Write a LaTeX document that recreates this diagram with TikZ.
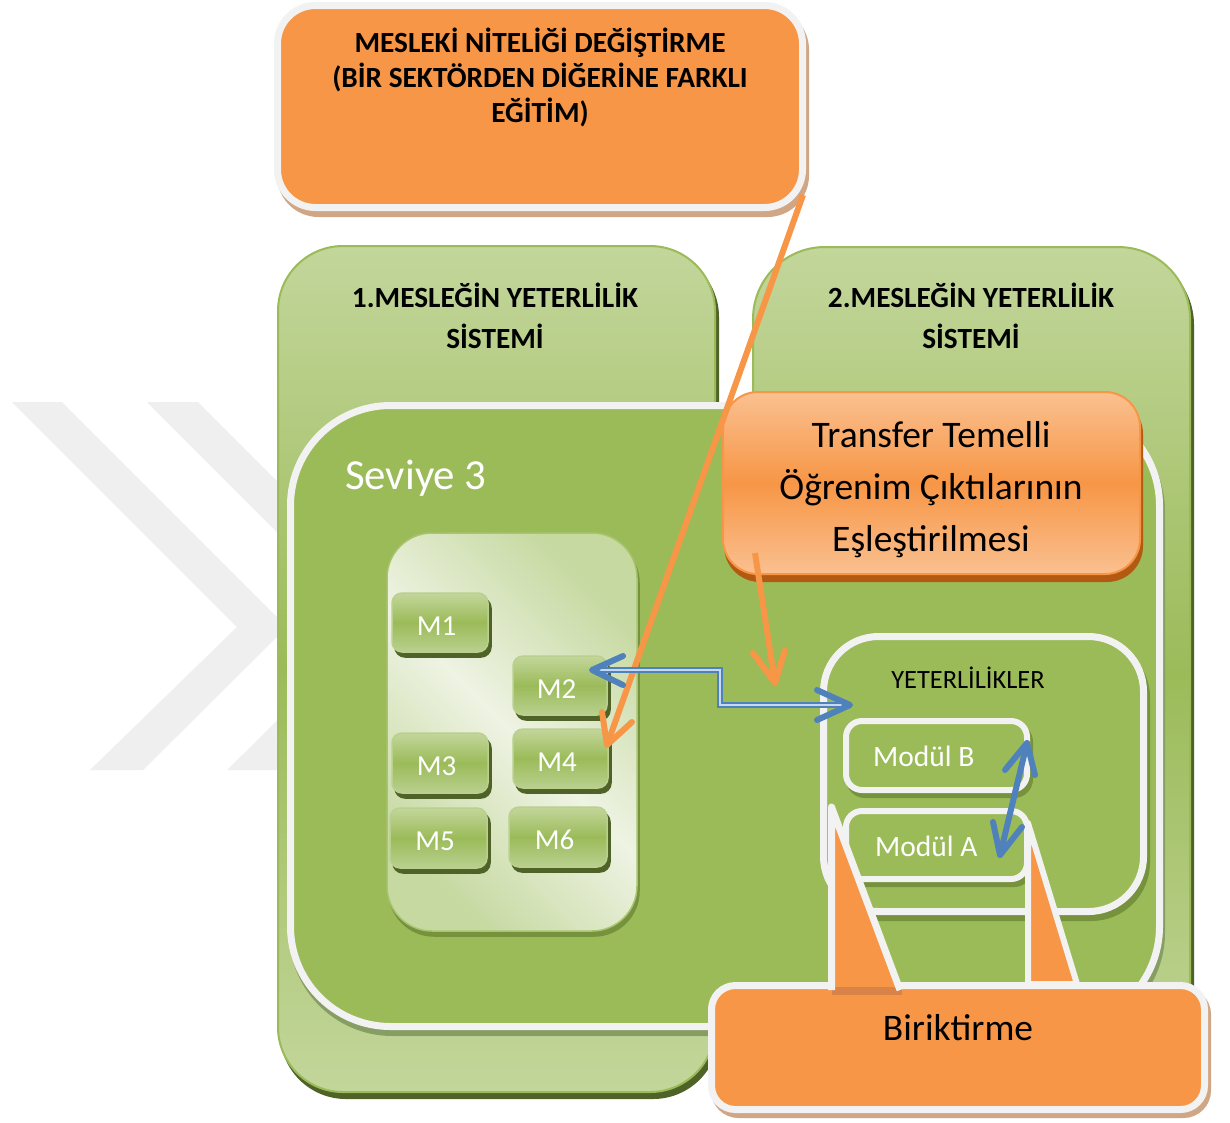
\documentclass[tikz,border=0pt]{standalone}
\usepackage{fontspec}
\setmainfont{Carlito}
\usetikzlibrary{calc,shadows}

\definecolor{orng}{HTML}{F79646}
\definecolor{orngpale}{HTML}{FAC090}
\definecolor{orngdeep}{HTML}{B35A12}
\definecolor{orngstrip}{HTML}{D98348}
\definecolor{tanshade}{HTML}{D0A684}
\definecolor{grn}{HTML}{9BBB59}
\definecolor{grnlight}{HTML}{C3D69B}
\definecolor{grnsoft}{HTML}{C6D9A0}
\definecolor{grnpale}{HTML}{EEF3E3}
\definecolor{grnedge}{HTML}{A9C46F}
\definecolor{grnbtn}{HTML}{B9D08F}
\definecolor{grndark}{HTML}{4F6228}
\definecolor{grnshade}{HTML}{76923C}
\definecolor{lvlshade}{HTML}{869E63}
\definecolor{rim}{HTML}{F2F2F2}
\definecolor{blu}{HTML}{4F81BD}
\definecolor{blupale}{HTML}{C6D9F1}
\definecolor{wmark}{HTML}{EFEFEF}

% rounded panel given by its corners: [style]{name}{x1}{y1}{x2}{y2}{text}
\newcommand\panel[7][]{%
  \node[#1, minimum width={(#5)-(#3)}, minimum height={(#6)-(#4)}]
    (#2) at ({((#3)+(#5))/2},{((#4)+(#6))/2}) {#7};}

\newcommand\headfont{\bfseries\fontsize{29.3}{35}\selectfont}
\newcommand\bigfont{\fontsize{37.5}{45}\selectfont}

\tikzset{
  titlebox/.style={fill=orng, draw=rim, line width=7pt, rounded corners=38pt,
    general shadow={fill=tanshade, draw=tanshade, shadow xshift=3pt, shadow yshift=-6pt}},
  sysbox/.style={draw=grn, line width=2pt,
    top color=grnlight, bottom color=grnlight, middle color=grn,
    general shadow={fill=grndark, draw=grndark, shadow xshift=3pt, shadow yshift=-6pt}},
  lvlbox/.style={fill=grn, draw=rim, line width=7pt, rounded corners=100pt,
    general shadow={fill=lvlshade, draw=lvlshade, shadow xshift=2pt, shadow yshift=-6pt}},
  grpbox/.style={draw=grnedge, line width=1.5pt, rounded corners=45pt,
    top color=grnsoft, bottom color=grnsoft, middle color=grnpale, shading angle=-45,
    general shadow={fill=grnshade, draw=grnshade, shadow xshift=2pt, shadow yshift=-5pt}},
  mbox/.style={draw=grnbtn, line width=1.5pt, rounded corners=10pt,
    top color=grnlight, bottom color=grnbtn, middle color=grn,
    general shadow={fill=grndark, draw=grndark, shadow xshift=3pt, shadow yshift=-5pt},
    text=white, font=\fontsize{29}{35}\selectfont, text height=25.5pt, text depth=0pt,
    execute at end node={\hspace*{7pt}}},
  xferbox/.style={draw=orng, line width=2pt, rounded corners=35pt,
    top color=orngpale, bottom color=orngpale, middle color=orng,
    general shadow={fill=orngdeep, draw=orngdeep, shadow xshift=2pt, shadow yshift=-7pt}},
  qualbox/.style={fill=grn, draw=rim, line width=7pt, rounded corners=55pt,
    general shadow={fill=grnshade, draw=grnshade, shadow xshift=3pt, shadow yshift=-6pt}},
  modbox/.style={fill=grn, draw=rim, line width=6pt, rounded corners=16pt,
    general shadow={fill=grnshade, draw=grnshade, shadow xshift=3pt, shadow yshift=-5pt}},
  accbox/.style={fill=orng, draw=rim, line width=7pt, rounded corners=24pt,
    general shadow={fill=tanshade, draw=tanshade, shadow xshift=3pt, shadow yshift=-5pt}},
  caption/.style={anchor=base, inner sep=0pt},
  modlabel/.style={anchor=base west, inner sep=0pt, text=white, font=\fontsize{29.5}{35}\selectfont},
  orngline/.style={draw=orng, line width=6pt},
  orngtip/.style={draw=orng, line width=6pt, line cap=round, line join=round},
  bluline/.style={draw=blu, line width=2pt, double=blupale, double distance=2.5pt},
  blutip/.style={draw=blu, line width=6pt, line cap=round, line join=round},
}

\begin{document}
\begin{tikzpicture}[x=1pt,y=-1pt]
\useasboundingbox (0,0) rectangle (1230,1122);
\fill[white] (0,0) rectangle (1230,1122);

% faint double chevron in the background
\fill[wmark] (12,402) -- (62,402) -- (287,627) -- (143,770) -- (90,770) -- (237,627) -- cycle;
\fill[wmark] (147,402) -- (198,402) -- (423,627) -- (280,770) -- (227,770) -- (372,627) -- cycle;

% heading callout
\panel[titlebox]{brief}{277.5}{5.5}{802.5}{207.5}{}
\node[caption, font=\headfont] (briefA) at (540,52) {MESLEKİ NİTELİĞİ DEĞİŞTİRME};
\node[caption, font=\headfont] (briefB) at (540,87) {(BİR SEKTÖRDEN DİĞERİNE FARKLI};
\node[caption, font=\headfont] (briefC) at (540,122) {EĞİTİM)};

% the two qualification systems
\panel[sysbox, rounded corners=65pt]{sysA}{278}{246}{715}{1092}{}
\panel[sysbox, rounded corners=72pt]{sysB}{753}{247}{1190}{1100}{}
\node[caption, font=\headfont] (sysAa) at (495,307) {1.MESLEĞİN YETERLİLİK};
\node[caption, font=\headfont] (sysAb) at (495,348) {SİSTEMİ};
\node[caption, font=\headfont] (sysBa) at (971,307) {2.MESLEĞİN YETERLİLİK};
\node[caption, font=\headfont] (sysBb) at (971,348) {SİSTEMİ};

% level 3 frame
\panel[lvlbox]{lvl}{290.5}{405.5}{1159.5}{1026.5}{}
\node[caption, anchor=base west, text=white, font=\fontsize{42.8}{50}\selectfont] (lvlText) at (345,489) {Seviye 3};

% module group
\panel[grpbox]{grp}{387}{533}{637}{931}{}
\panel[mbox]{mA}{392}{593}{488}{652}{M1}
\panel[mbox]{mB}{513}{656}{607}{715}{M2}
\panel[mbox]{mC}{392}{733}{488}{793}{M3}
\panel[mbox]{mD}{513}{729}{608}{788}{M4}
\panel[mbox]{mE}{390}{808}{487}{868}{M5}
\panel[mbox]{mF}{509}{807}{607}{867}{M6}

% transfer callout
\panel[xferbox]{xfer}{723}{392}{1140}{574}{}
\node[caption, font=\bigfont] (xferA) at (931,447) {Transfer Temelli};
\node[caption, font=\bigfont] (xferB) at (931,499) {Öğrenim Çıktılarının};
\node[caption, font=\bigfont] (xferC) at (931,551) {Eşleştirilmesi};

% qualifications
\panel[qualbox]{quals}{823.5}{636.5}{1143.5}{911.5}{}
\node[caption, font=\fontsize{26.4}{32}\selectfont] (qualsText) at (968,688) {YETERLİLİKLER};
\panel[modbox]{modB}{846}{721}{1027}{790}{}
\panel[modbox]{modA}{846}{811}{1027}{879}{}
\node[modlabel] (modBText) at (873,766) {Modül B};
\node[modlabel] (modAText) at (875,856) {Modül A};

% accumulation callout with its two pointers
\draw[fill=orng, draw=rim, line width=6pt, line join=round] (1028,823) -- (1028,984) -- (1077,984) -- cycle;
\panel[accbox]{accum}{711.5}{985.5}{1204.5}{1109.5}{}
\fill[orng] (831.5,807) -- (831.5,994) -- (901,994) -- cycle;
\fill[orngstrip] (831.5,987) rectangle (902,995);
\draw[rim, line width=7pt, line join=round] (831.5,990) -- (831.5,807) -- (900,990);
\node[caption, font=\bigfont] (accText) at (958,1040) {Biriktirme};

% connectors
\coordinate (briefTail) at (803,195);
\coordinate (mDtip) at (607,745);
\draw[orngline] (briefTail) -- (mDtip);
\draw[orngtip] ($(mDtip)+(-5,-33)$) -- (mDtip) -- ($(mDtip)+(25,-23)$);

\coordinate (xferTail) at (755,553);
\coordinate (xferTip) at (775,683);
\draw[orngline] (xferTail) -- (xferTip);
\draw[orngtip] ($(xferTip)+(-22,-30)$) -- (xferTip) -- ($(xferTip)+(10,-33)$);

\coordinate (mBtip) at (592,670);
\coordinate (bend) at (720,705);
\coordinate (qualsTip) at (850,705);
\draw[bluline] (mBtip) -| (bend) -- (qualsTip);
\draw[blutip] ($(mBtip)+(31,-14)$) -- (mBtip) -- ($(mBtip)+(31,15)$);
\draw[blutip] ($(qualsTip)+(-33,-15)$) -- (qualsTip) -- ($(qualsTip)+(-33,15)$);

\coordinate (modBtip) at (1027,743);
\coordinate (modAtip) at (1000,855);
\draw[blutip] (modBtip) -- (modAtip);
\draw[blutip] ($(modBtip)+(-22,27)$) -- (modBtip) -- ($(modBtip)+(8,32)$);
\draw[blutip] ($(modAtip)+(-7,-33)$) -- (modAtip) -- ($(modAtip)+(22,-28)$);
\end{tikzpicture}
\end{document}
